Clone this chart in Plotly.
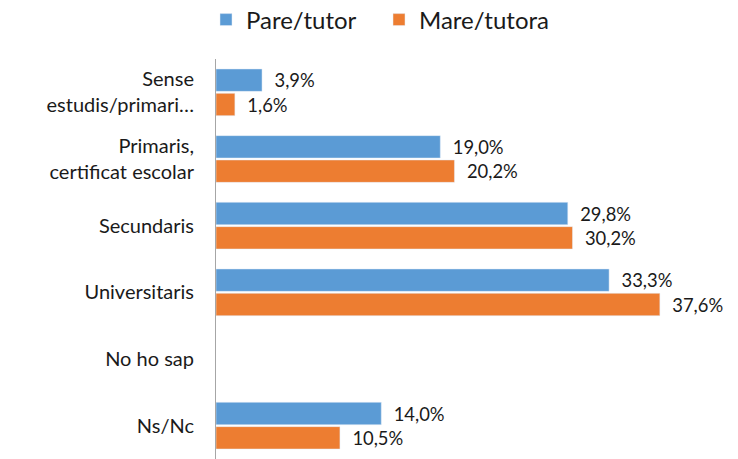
import plotly.graph_objects as go

categories = ["Sense<br>estudis/primari…", "Primaris,<br>certificat escolar", "Secundaris",
              "Universitaris", "No ho sap", "Ns/Nc"]
pare = [3.9, 19.0, 29.8, 33.3, None, 14.0]
mare = [1.6, 20.2, 30.2, 37.6, None, 10.5]
series_names = ["Pare/tutor", "Mare/tutora"]
colors = ["#5B9BD5", "#ED7D31"]

def labels(vals):
    return [("" if v is None else "\u00a0\u00a0" + f"{v:.1f}%".replace(".", ",")) for v in vals]

fig = go.Figure()
for name, vals, col in zip(series_names, [pare, mare], colors):
    fig.add_trace(go.Bar(
        y=categories, x=vals, name=name, orientation="h",
        marker=dict(color=col),
        text=labels(vals), textposition="outside", cliponaxis=False,
        textfont=dict(size=23, color="#1a1a1a"),
    ))

fig.update_layout(
    width=738, height=459,
    font=dict(family="Lato, Open Sans, sans-serif", color="#1a1a1a"),
    plot_bgcolor="white", paper_bgcolor="white",
    barmode="group", bargap=0.27, bargroupgap=0.08,
    margin=dict(l=216, r=38, t=59, b=0, autoexpand=False),
    showlegend=True,
    legend=dict(orientation="h", x=206 / 738, xanchor="left", xref="container",
                y=1 - 20 / 459, yanchor="middle", yref="container",
                entrywidth=128, entrywidthmode="pixels",
                font=dict(size=24), traceorder="normal"),
    xaxis=dict(range=[0, 41], visible=False, showgrid=False, zeroline=False),
    yaxis=dict(autorange="reversed", showline=True, linecolor="#A6A6A6", linewidth=1,
               ticks="", tickfont=dict(size=20), ticklabelstandoff=17, automargin=False,
               showgrid=False, zeroline=False),
)
fig.write_html("out.html", config={"displayModeBar": False},
               post_script="document.body.style.margin='0';")
